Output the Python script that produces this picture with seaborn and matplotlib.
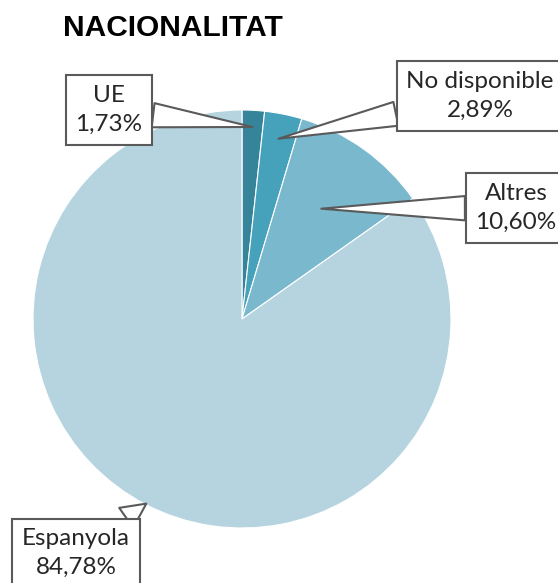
import numpy as np
import matplotlib
matplotlib.use("Agg")
import matplotlib.pyplot as plt
import seaborn as sns

# data
labels = ["UE", "No disponible", "Altres", "Espanyola"]
values = [1.73, 2.89, 10.60, 84.78]
colors = ["#368499", "#46a1ba", "#7ab8ce", "#b6d4e0"]

# callout placement (text centre, in axes data units) and tip radius
label_pos = [(-0.636, 1.0), (1.139, 1.067), (1.311, 0.531), (-0.794, -1.120)]
tip_r = [0.92, 0.88, 0.65, 0.995]

sns.set_style("white")
plt.rcParams['font.family'] = ['Lato', 'DejaVu Sans']

fig = plt.figure(figsize=(5.58, 5.83), dpi=100)
ax = fig.add_axes([0, 0, 1, 1])

wedges, _ = ax.pie(values, colors=colors, startangle=90, counterclock=False,
                   radius=1, wedgeprops=dict(edgecolor="white", linewidth=0.8))
ax.set_xlim(-242 / 209, (558 - 242) / 209)
ax.set_ylim((319 - 583) / 209, 319 / 209)
ax.set_aspect("equal")
ax.axis("off")

for w, lab, v, pos, r in zip(wedges, labels, values, label_pos, tip_r):
    ang = np.deg2rad((w.theta1 + w.theta2) / 2)
    tip = (r * np.cos(ang), r * np.sin(ang))
    txt = lab + "\n" + f"{v:.2f}".replace(".", ",") + "%"
    ax.annotate(txt, xy=tip, xytext=pos, ha="center", va="center",
                fontsize=17.5, color="#262626", linespacing=1.45,
                bbox=dict(boxstyle="square,pad=0.4", fc="white", ec="#5a5a5a", lw=1.5),
                arrowprops=dict(arrowstyle="wedge,tail_width=1.0", fc="white",
                                ec="#5a5a5a", lw=1.5, shrinkA=0, shrinkB=0))

fig.text(63 / 558, 1 - 36 / 583, "NACIONALITAT", ha="left", va="baseline",
         fontsize=21.5, fontweight="bold", family="Liberation Sans", color="black")

fig.savefig("out.png", dpi=100)
